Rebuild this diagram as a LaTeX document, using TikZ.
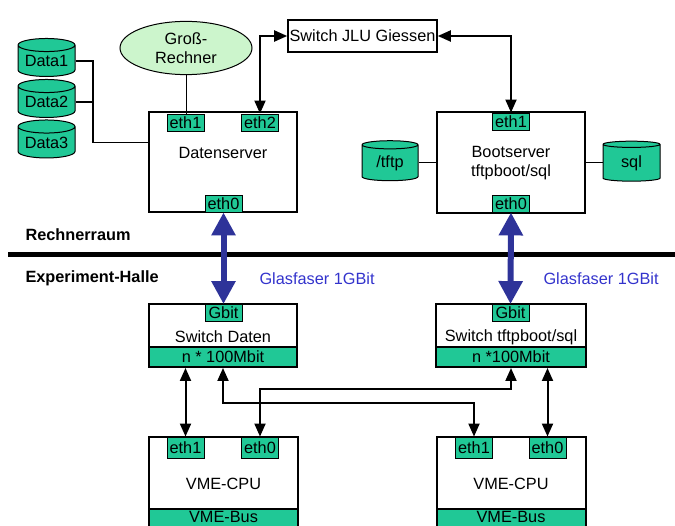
\documentclass[tikz,border=0pt]{standalone}
\usepackage{fontspec}
\setmainfont{Liberation Sans}
\usetikzlibrary{shapes.geometric, arrows.meta}

\definecolor{netzgruen}{RGB}{32,200,150}
\definecolor{hellgruen}{RGB}{204,245,204}
\definecolor{faserblau}{RGB}{46,51,153}
\definecolor{textblau}{RGB}{51,51,204}

\begin{document}
\begin{tikzpicture}[x=1pt, y=-1pt,
    every node/.style={font=\fontsize{16.3}{19}\selectfont},
    kasten/.style={draw, line width=2pt, inner sep=0pt},
    port/.style={draw, fill=netzgruen, line width=0.9pt, inner sep=0pt, minimum height=17, minimum width=37},
    balken/.style={draw, fill=netzgruen, line width=2pt, inner sep=0pt, minimum height=20, minimum width=148},
    platte/.style={cylinder, shape border rotate=90, aspect=0.3, draw, fill=netzgruen, line width=1pt, inner sep=0pt},
    bereich/.style={anchor=west, font=\bfseries\fontsize{16.3}{19}\selectfont},
    verb/.style={line width=2pt, {Triangle[width=11pt,length=13pt]}-{Triangle[width=11pt,length=13pt]}},
    faser/.style={line width=6pt, faserblau, {Triangle[width=23pt,length=23pt]}-{Triangle[width=23pt,length=23pt]}}]
    \clip (0,0) rectangle (675,526);

    % Rechnerraum
    \node[kasten, minimum width=148, minimum height=100] (daten) at (223,162) {};
    \node (datentext) at (223,153) {Datenserver};
    \node[kasten, minimum width=148, minimum height=101] (boot) at (511,162.5) {};
    \node[align=center] (boottext) at (511,163) {Bootserver\\tftpboot/sql};
    \node[ellipse, draw, fill=hellgruen, line width=1pt, minimum width=132, minimum height=48, align=center] (gross) at (186,48) {Groß-\\Rechner};
    \node[kasten, line width=1.6pt, minimum width=149, minimum height=32] (jlu) at (362.5,36) {Switch JLU Giessen};

    % Ports
    \foreach \n/\x/\y/\t in {deth1/185.5/122.5/eth1, deth2/260/122.5/eth2, deth0/223.5/203.5/eth0,
                             beth1/511/121.5/eth1, beth0/511/203.5/eth0}
        \node[port] (\n) at (\x,\y) {\t};

    % Platten
    \foreach \n/\y/\t in {data1/61/Data1, data2/102/Data2, data3/142.5/Data3}
        \node[platte, minimum width=57, minimum height=38] (\n) at (46.5,\y) {\t};
    \node[platte, minimum width=56, minimum height=40] (tftp) at (390,163) {/tftp};
    \node[platte, minimum width=57, minimum height=40] (sql) at (631.5,163) {sql};

    \coordinate (sammel) at (93,62);
    \draw[line width=1.6pt] (data1.east) -| (sammel |- data3.east) -- (daten.west |- data3.east);
    \draw[line width=1.6pt] (data2.east) -- (sammel |- data2.east);
    \draw[line width=1pt] (gross.south) -- (gross.south |- deth1.north);
    \draw[line width=1pt] (tftp.east) -- (boot.west |- tftp.east);
    \draw[line width=1pt] (sql.west) -- (boot.east |- sql.west);
    \draw[verb] (jlu.west) -| (deth2.north);
    \draw[verb] (jlu.east) -| (beth1.north);

    % Trennlinie
    \node[bereich] (raum) at (22,235) {Rechnerraum};
    \draw[line width=5pt] (8,255) -- (675,255);
    \node[bereich] (halle) at (22,278) {Experiment-Halle};

    % Experiment-Halle
    \node[kasten, minimum width=148, minimum height=63] (swdaten) at (223,335.5) {};
    \node[balken] (sdbar) at (223,357) {n * 100Mbit};
    \node (sdtext) at (223,337) {Switch Daten};
    \node[port] (sdgbit) at (223.5,313) {Gbit};
    \node[kasten, minimum width=150, minimum height=63] (swboot) at (511,335.5) {};
    \node[balken, minimum width=150] (stbar) at (511,357) {n *100Mbit};
    \node (sttext) at (511,337) {Switch tftpboot/sql};
    \node[port] (stgbit) at (510.5,313) {Gbit};

    \draw[faser] (deth0.south) -- (sdgbit.north);
    \draw[faser] (beth0.south) -- (stgbit.north);
    \node[anchor=west, text=textblau] (glas1) at (256,279) {Glasfaser 1GBit};
    \node[anchor=west, text=textblau] (glas2) at (540,279) {Glasfaser 1GBit};

    % VME-CPUs
    \foreach \n/\x in {vme1/223.5, vme2/511} {
        \node[kasten, minimum width=149, minimum height=92] (\n) at (\x,483) {};
        \node[balken, minimum width=149] (\n bus) at (\x,519) {};
        \node[anchor=base, inner sep=0pt] (\n bustext) at (\x,522) {VME-Bus};
        \node (\n text) at (\x,484) {VME-CPU};
    }
    \foreach \n/\x/\t in {v1eth1/185.5/eth1, v1eth0/260/eth0, v2eth1/474/eth1, v2eth0/547.5/eth0}
        \node[port, minimum height=21] (\n) at (\x,447.5) {\t};

    \draw[verb] (v1eth1.north) -- (v1eth1.north |- sdbar.south);
    \draw[verb] (sdbar.south) -- ++(0,35) -| (v2eth1.north);
    \draw[verb] (v1eth0.north) -- ++(0,-48) -| (stbar.south);
    \draw[verb] (v2eth0.north) -- (v2eth0.north |- stbar.south);
\end{tikzpicture}
\end{document}
